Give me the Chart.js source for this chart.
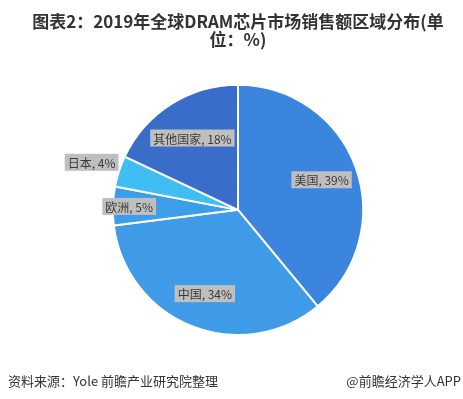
<!DOCTYPE html>
<html>
<head>
<meta charset="utf-8">
<script src="https://cdn.jsdelivr.net/npm/chart.js@4/dist/chart.umd.min.js"></script>
<style>
    html,body{margin:0;padding:0;background:#fff;}
    #wrap{position:relative;width:463px;height:399px;}
    .foot{position:absolute;top:371px;font:13px "Noto Sans CJK SC",sans-serif;color:#333;white-space:nowrap;}
</style>
</head>
<body>
<div id="wrap">
    <canvas id="c" width="463" height="399"></canvas>
    <div class="foot" style="left:8px">资料来源：Yole 前瞻产业研究院整理</div>
    <div class="foot" style="right:2px">@前瞻经济学人APP</div>
</div>
<script>
// regions and their share, %
let regions=["美国","中国","欧洲","日本","其他国家"];
let shares=[39,34,5,4,18];
let colors=["#3c85de","#3f9ae7","#3c9ee9","#40bdf3","#3a6dc9"];
// how far out the label sits, as part of the radius
let labelDist=[0.71,0.72,0.87,1.23,0.68];

let labelPlugin={
    id:"boxLabels",
    afterDatasetsDraw:function(chart) {
        let ctx=chart.ctx;
        let arcs=chart.getDatasetMeta(0).data;
        ctx.save();
        ctx.font='12px "Noto Sans CJK SC", sans-serif';
        ctx.textAlign="center";
        ctx.textBaseline="middle";
        arcs.forEach((arc,i)=>{
            let
                p=arc.getProps(["x","y","startAngle","endAngle","outerRadius"]),
                mid=(p.startAngle+p.endAngle)/2,
                r=p.outerRadius*labelDist[i],
                x=p.x+Math.cos(mid)*r,
                y=p.y+Math.sin(mid)*r,
                txt=regions[i]+", "+shares[i]+"%",
                w=ctx.measureText(txt).width+6;
            ctx.fillStyle="#bfbfbf";
            ctx.fillRect(x-w/2,y-8.5,w,17);
            ctx.fillStyle="#3a3a3a";
            ctx.fillText(txt,x,y+1);
        });
        ctx.restore();
    }
};

new Chart(document.getElementById("c"),{
    type:"pie",
    data:{
        labels:regions,
        datasets:[{
            data:shares,
            backgroundColor:colors,
            borderColor:"#fff",
            borderWidth:2
        }]
    },
    options:{
        responsive:false,
        animation:false,
        layout:{padding:{left:13,right:0,top:0,bottom:63}},
        plugins:{
            legend:{display:false},
            tooltip:{enabled:false},
            title:{
                display:true,
                text:["图表2：2019年全球DRAM芯片市场销售额区域分布(单","位：%)"],
                color:"#333",
                font:{family:'"Noto Sans CJK SC", sans-serif',size:17,weight:"bold",lineHeight:1.08},
                padding:{top:12,bottom:35}
            }
        }
    },
    plugins:[labelPlugin]
});
</script>
</body>
</html>
